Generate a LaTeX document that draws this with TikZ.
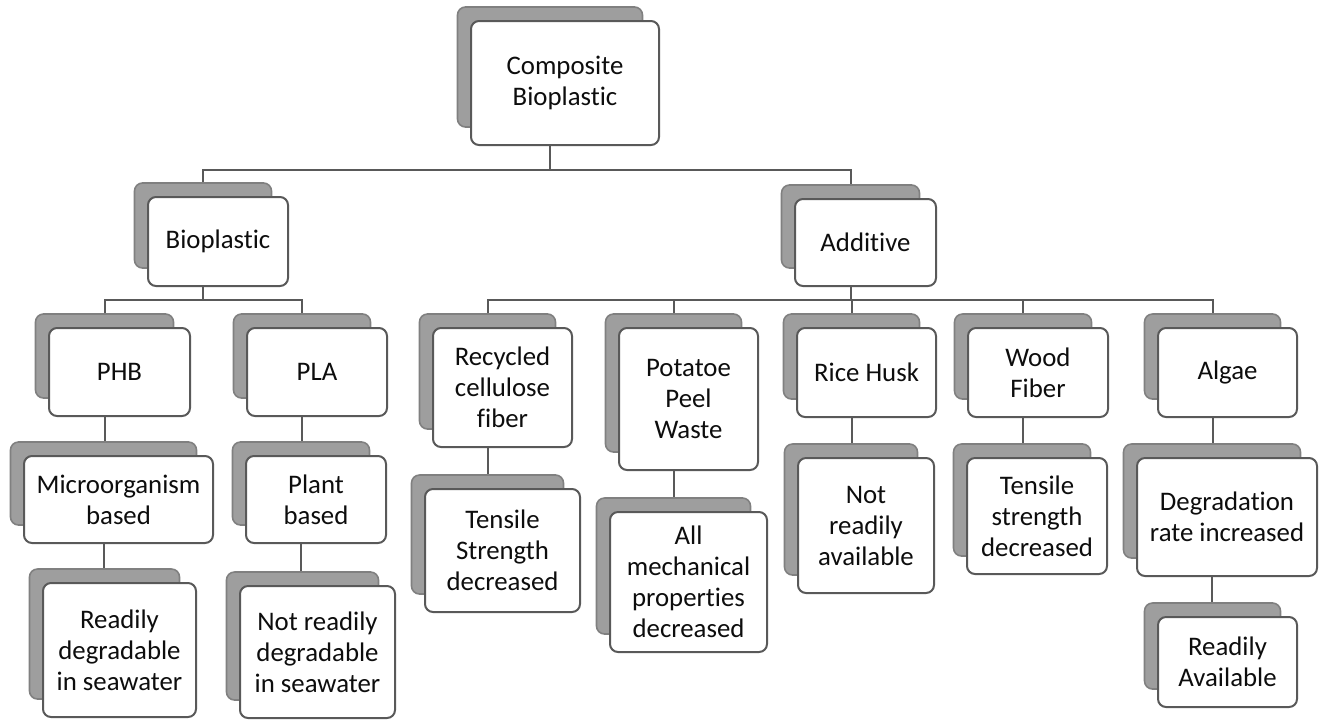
\documentclass[tikz,border=0pt]{standalone}
\usepackage{fontspec}
\setmainfont{Carlito}[Ligatures=CommonOff]

\tikzset{
  card/.style={draw=black!65, line width=1pt, fill=white, rounded corners=4pt,
    align=center, inner sep=0pt, text=black!95,
    font=\fontsize{13.4}{15.5}\selectfont},
  back/.style={draw=black!50, line width=0.8pt, fill=black!38, rounded corners=4pt, inner sep=0pt},
  link/.style={draw=black!65, line width=1pt}
}

\begin{document}
\begin{tikzpicture}[x=0.5pt, y=-0.5pt]
  \useasboundingbox (0,0) rectangle (1320,719);

  % boxes: name/x/y/width/height/text
  \foreach \n/\x/\y/\w/\h/\t in {
      comp/565/83/188/124/{Composite\\Bioplastic},
      bio/218/241.5/140/89/{Bioplastic},
      add/865.5/242.5/141/87/{Additive},
      phb/119.5/372/141/88/{PHB},
      pla/317/372/140/88/{PLA},
      rec/502.5/387.5/139/119/{Recycled\\cellulose\\fiber},
      pot/688.5/399/139/142/{Potatoe\\Peel\\Waste},
      rice/866.5/372.5/139/89/{Rice Husk},
      wood/1038/372.5/140/89/{Wood\\Fiber},
      alg/1227.5/372.5/139/89/{Algae},
      micro/118.5/499.5/189/87/{Microorganism\\based},
      plant/316/499.5/140/87/{Plant\\based},
      rdeg/119.5/650/153/134/{Readily\\degradable\\in seawater},
      nrdeg/317.5/652/155/132/{Not readily\\degradable\\in seawater},
      tens1/502.5/550.5/155/123/{Tensile\\Strength\\decreased},
      mech/688.5/582/157/140/{All\\mechanical\\properties\\decreased},
      nra/866/525.5/136/135/{Not\\readily\\available},
      tens2/1037/516/140/116/{Tensile\\strength\\decreased},
      degr/1227/517/180/118/{Degradation\\rate increased},
      ravail/1227.5/662/139/90/{Readily\\Available}}{
    \node[back, minimum width={(\w-3)*0.5pt}, minimum height={(\h-4)*0.5pt}] (s\n) at (\x-15,\y-16) {};
    \node[card, minimum width={\w*0.5pt}, minimum height={\h*0.5pt}] (\n) at (\x,\y) {\t};
  }

  \coordinate (b1) at (0,170);
  \coordinate (b2) at (0,300);

  % top split
  \draw[link] (scomp |- comp.south) -- (scomp |- b1);
  \draw[link] (sbio.north) |- (sadd |- b1) -- (sadd.north);

  % bioplastic split
  \draw[link] (sbio |- bio.south) -- (sbio |- b2);
  \draw[link] (sphb.north) |- (spla |- b2) -- (spla.north);

  % additive split
  \draw[link] (sadd |- add.south) -- (sadd |- b2);
  \draw[link] (srec.north) |- (salg |- b2) -- (salg.north);
  \foreach \c in {pot,rice,wood}
    \draw[link] (s\c.north) -- (s\c |- b2);

  % chains
  \foreach \a/\b in {phb/micro, pla/plant, micro/rdeg, plant/nrdeg, rec/tens1,
                     pot/mech, rice/nra, wood/tens2, alg/degr, degr/ravail}
    \draw[link] (s\a |- \a.south) -- (s\a |- s\b.north);
\end{tikzpicture}
\end{document}
